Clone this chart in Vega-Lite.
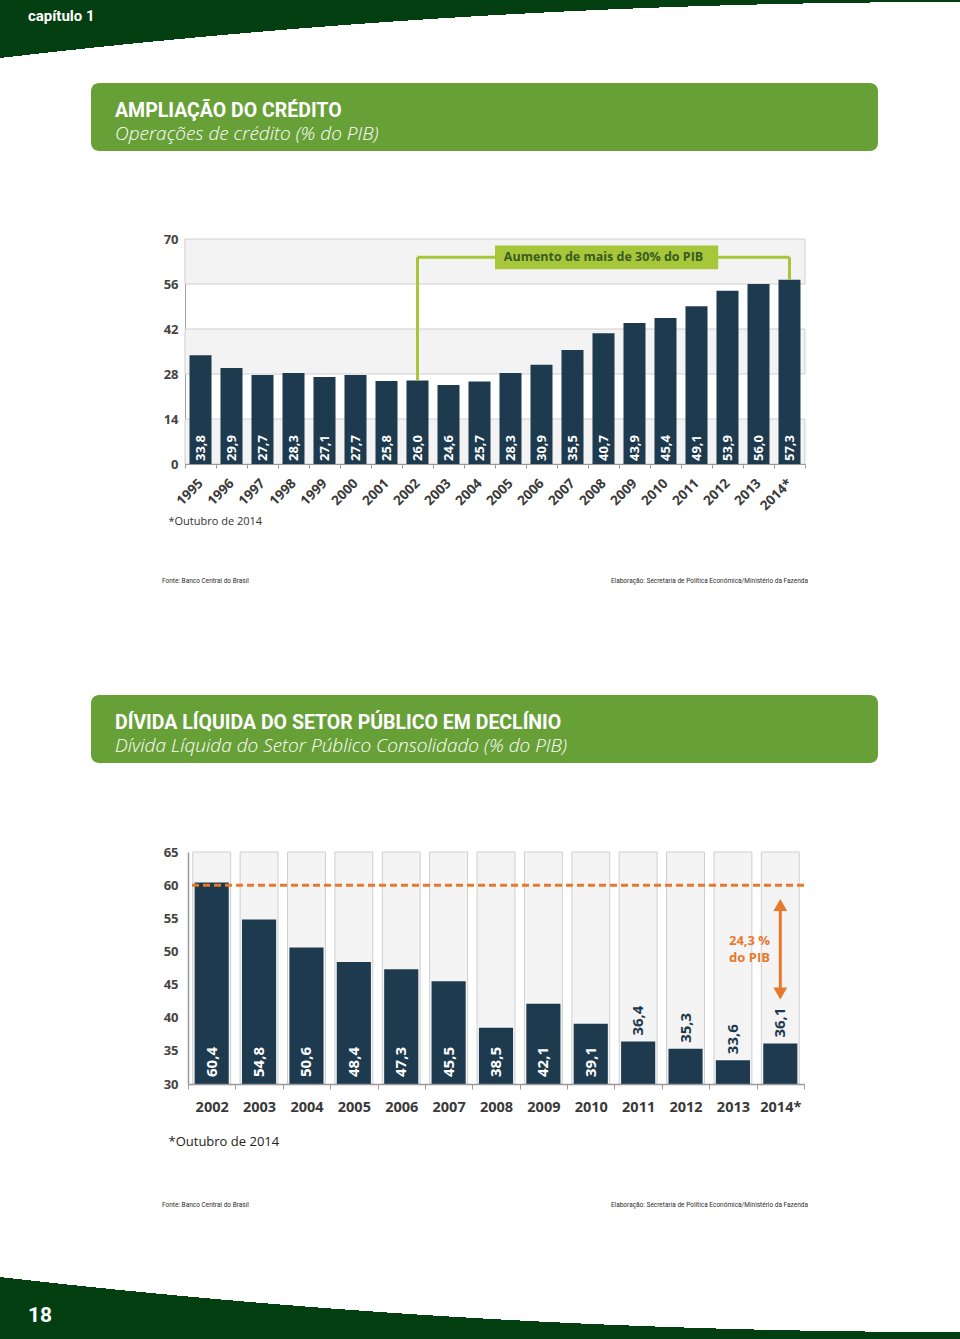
{
  "$schema": "https://vega.github.io/schema/vega-lite/v6.json",
  "padding": 0,
  "background": "#ffffff",
  "spacing": 0,
  "bounds": "full",
  "datasets": {
    "credito": [
      {"ano": "1995", "valor": 33.8}, {"ano": "1996", "valor": 29.9}, {"ano": "1997", "valor": 27.7},
      {"ano": "1998", "valor": 28.3}, {"ano": "1999", "valor": 27.1}, {"ano": "2000", "valor": 27.7},
      {"ano": "2001", "valor": 25.8}, {"ano": "2002", "valor": 26.0}, {"ano": "2003", "valor": 24.6},
      {"ano": "2004", "valor": 25.7}, {"ano": "2005", "valor": 28.3}, {"ano": "2006", "valor": 30.9},
      {"ano": "2007", "valor": 35.5}, {"ano": "2008", "valor": 40.7}, {"ano": "2009", "valor": 43.9},
      {"ano": "2010", "valor": 45.4}, {"ano": "2011", "valor": 49.1}, {"ano": "2012", "valor": 53.9},
      {"ano": "2013", "valor": 56.0}, {"ano": "2014*", "valor": 57.3}
    ],
    "divida": [
      {"ano": "2002", "valor": 60.4}, {"ano": "2003", "valor": 54.8}, {"ano": "2004", "valor": 50.6},
      {"ano": "2005", "valor": 48.4}, {"ano": "2006", "valor": 47.3}, {"ano": "2007", "valor": 45.5},
      {"ano": "2008", "valor": 38.5}, {"ano": "2009", "valor": 42.1}, {"ano": "2010", "valor": 39.1},
      {"ano": "2011", "valor": 36.4}, {"ano": "2012", "valor": 35.3}, {"ano": "2013", "valor": 33.6},
      {"ano": "2014*", "valor": 36.1}
    ]
  },
  "vconcat": [
    {
      "width": 960, "height": 83,
      "data": {"values": []},
      "mark": "rect",
      "view": {"stroke": null, "fill": {"gradient": "radial", "x1": 1, "y1": 9.0599, "r1": 0, "x2": 1, "y2": 9.0599, "r2": 8.8,
        "stops": [{"offset": 0, "color": "#ffffff"}, {"offset": 0.97739, "color": "#ffffff"}, {"offset": 0.97739, "color": "#033f10"}, {"offset": 1, "color": "#033f10"}]}},
      "title": {"text": "capítulo 1", "anchor": "start", "orient": "top", "offset": -24, "dx": 28,
        "font": "Roboto", "fontSize": 15, "fontWeight": "bold", "color": "#ffffff"}
    },
    {
      "hconcat": [
        {"width": 91, "height": 1, "data": {"values": []}, "mark": "rect"},
        {
          "width": 787, "height": 68,
          "data": {"values": [{}]},
          "mark": {"type": "text"},
          "view": {"fill": "#68a038", "cornerRadius": 8, "stroke": null},
          "title": {"text": "AMPLIAÇÃO DO CRÉDITO", "subtitle": "Operações de crédito (% do PIB)", "anchor": "start", "orient": "top", "offset": -62, "dx": 24,
            "font": "Roboto", "fontSize": 19.5, "fontWeight": "bold", "color": "#ffffff",
            "subtitleFont": "Open Sans", "subtitleFontSize": 19, "subtitleFontStyle": "italic", "subtitleFontWeight": 300, "subtitleColor": "#ffffff", "subtitlePadding": 4}
        }
      ],
      "spacing": 0, "bounds": "flush"
    },
    {"width": 10, "height": 82, "data": {"values": []}, "mark": "rect", "view": {"fill": "#ffffff", "stroke": null}},
    {
      "hconcat": [
        {"width": 185, "height": 1, "data": {"values": []}, "mark": "rect"},
        {
          "width": 620, "height": 225,
          "layer": [
            {
              "data": {"values": [{"lo": 0, "hi": 14}, {"lo": 28, "hi": 42}, {"lo": 56, "hi": 70}]},
              "mark": {"type": "rect", "fill": "#f3f3f3", "stroke": "#cfcfcf", "strokeWidth": 1},
              "encoding": {
                "y": {"field": "lo", "type": "quantitative", "scale": {"domain": [0, 70], "nice": false},
                  "axis": {"values": [0, 14, 28, 42, 56, 70], "title": null, "grid": false, "ticks": false, "domainColor": "#a0a0a0",
                    "labelFontSize": 13, "labelColor": "#444444", "labelPadding": 7}},
                "y2": {"field": "hi"}
              }
            },
            {
              "data": {"name": "credito"},
              "mark": {"type": "bar", "color": "#1e3a4f", "width": {"band": 0.71}},
              "encoding": {
                "x": {"field": "ano", "type": "ordinal", "scale": {"paddingInner": 0, "paddingOuter": 0},
                  "axis": {"title": "*Outubro de 2014", "titleX": -17, "titleY": 57, "titleAlign": "left", "titleBaseline": "middle", "titleFontSize": 11, "titleColor": "#333333",
                    "labelAngle": -45, "labelAlign": "right", "labelBaseline": "middle", "labelFontSize": 13.5, "labelColor": "#3a3a3a", "labelPadding": 13,
                    "tickBand": "extent", "tickSize": 4, "tickColor": "#999999", "domainColor": "#999999", "zindex": 1}},
                "y": {"field": "valor", "type": "quantitative", "title": null}
              }
            },
            {
              "data": {"name": "credito"},
              "mark": {"type": "text", "angle": 270, "align": "left", "baseline": "middle", "dx": 3, "color": "#ffffff", "font": "Open Sans", "fontWeight": "bold", "fontSize": 13},
              "encoding": {
                "x": {"field": "ano", "type": "ordinal"},
                "y": {"datum": 0, "type": "quantitative", "title": null},
                "text": {"field": "valor", "type": "quantitative", "format": ".1f"}
              }
            },
            {
              "data": {"values": [{}]},
              "mark": {"type": "rule", "color": "#a6c739", "strokeWidth": 3},
              "encoding": {
                "x": {"datum": "2002", "type": "ordinal"},
                "y": {"datum": 26.0, "type": "quantitative", "title": null},
                "y2": {"datum": 64.3}
              }
            },
            {
              "data": {"values": [{}]},
              "mark": {"type": "rule", "color": "#a6c739", "strokeWidth": 3},
              "encoding": {
                "x": {"datum": "2002", "type": "ordinal"},
                "x2": {"datum": "2014*"},
                "y": {"datum": 64.3, "type": "quantitative", "title": null}
              }
            },
            {
              "data": {"values": [{}]},
              "mark": {"type": "rule", "color": "#a6c739", "strokeWidth": 3},
              "encoding": {
                "x": {"datum": "2014*", "type": "ordinal"},
                "y": {"datum": 57.3, "type": "quantitative", "title": null},
                "y2": {"datum": 64.3}
              }
            },
            {
              "data": {"values": [{}]},
              "mark": {"type": "rect", "color": "#a6c739"},
              "encoding": {
                "x": {"datum": "2005", "type": "ordinal", "bandPosition": 0},
                "x2": {"datum": "2012", "bandPosition": 0.2},
                "y": {"datum": 60.6, "type": "quantitative", "title": null},
                "y2": {"datum": 68}
              }
            },
            {
              "data": {"values": [{}]},
              "mark": {"type": "text", "font": "Open Sans", "fontWeight": "bold", "fontSize": 12.5, "color": "#3b5a21", "align": "center", "baseline": "middle"},
              "encoding": {
                "x": {"datum": "2008", "type": "ordinal"},
                "y": {"datum": 64.3, "type": "quantitative", "title": null},
                "text": {"value": "Aumento de mais de 30% do PIB"}
              }
            }
          ]
        }
      ],
      "spacing": 0, "bounds": "flush"
    },
    {
      "hconcat": [
        {"width": 162, "height": 1, "data": {"values": []}, "mark": "rect"},
        {
          "width": 646, "height": 58,
          "data": {"values": [{}]},
          "layer": [
            {"mark": {"type": "text", "align": "left", "baseline": "bottom", "font": "Roboto", "fontSize": 6.5, "color": "#2b2b2b"},
              "encoding": {"x": {"value": 0}, "y": {"value": "height"}, "text": {"value": "Fonte: Banco Central do Brasil"}}},
            {"mark": {"type": "text", "align": "right", "baseline": "bottom", "font": "Roboto", "fontSize": 6.5, "color": "#2b2b2b"},
              "encoding": {"x": {"value": "width"}, "y": {"value": "height"}, "text": {"value": "Elaboração: Secretaria de Política Econômica/Ministério da Fazenda"}}}
          ]
        }
      ],
      "spacing": 0, "bounds": "flush"
    },
    {"width": 10, "height": 110, "data": {"values": []}, "mark": "rect", "view": {"fill": "#ffffff", "stroke": null}},
    {
      "hconcat": [
        {"width": 91, "height": 1, "data": {"values": []}, "mark": "rect"},
        {
          "width": 787, "height": 68,
          "data": {"values": [{}]},
          "mark": {"type": "text"},
          "view": {"fill": "#68a038", "cornerRadius": 8, "stroke": null},
          "title": {"text": "DÍVIDA LÍQUIDA DO SETOR PÚBLICO EM DECLÍNIO", "subtitle": "Dívida Líquida do Setor Público Consolidado (% do PIB)", "anchor": "start", "orient": "top", "offset": -62, "dx": 24,
            "font": "Roboto", "fontSize": 19.5, "fontWeight": "bold", "color": "#ffffff",
            "subtitleFont": "Open Sans", "subtitleFontSize": 19, "subtitleFontStyle": "italic", "subtitleFontWeight": 300, "subtitleColor": "#ffffff", "subtitlePadding": 4}
        }
      ],
      "spacing": 0, "bounds": "flush"
    },
    {"width": 10, "height": 83, "data": {"values": []}, "mark": "rect", "view": {"fill": "#ffffff", "stroke": null}},
    {
      "hconcat": [
        {"width": 188, "height": 1, "data": {"values": []}, "mark": "rect"},
        {
          "width": 616, "height": 232,
          "layer": [
            {
              "data": {"name": "divida"},
              "mark": {"type": "bar", "fill": "#f4f4f4", "stroke": "#cfcfcf", "strokeWidth": 1, "width": {"band": 0.8}},
              "encoding": {
                "x": {"field": "ano", "type": "ordinal", "scale": {"paddingInner": 0, "paddingOuter": 0},
                  "axis": {"title": "*Outubro de 2014", "titleX": -20, "titleY": 57, "titleAlign": "left", "titleBaseline": "middle", "titleFontSize": 13, "titleColor": "#222222",
                    "labelAngle": 0, "labelFontSize": 14.5, "labelColor": "#3a3a3a", "labelPadding": 11,
                    "tickBand": "extent", "tickSize": 5, "tickColor": "#999999", "domainColor": "#999999", "domainWidth": 1.5, "zindex": 1}},
                "y": {"datum": 65, "type": "quantitative", "title": null, "scale": {"domain": [30, 65], "nice": false, "zero": false}},
                "y2": {"datum": 30}
              }
            },
            {
              "data": {"name": "divida"},
              "mark": {"type": "bar", "color": "#1e3a4f", "width": {"band": 0.72}},
              "encoding": {
                "x": {"field": "ano", "type": "ordinal"},
                "y": {"field": "valor", "type": "quantitative", "title": null, "scale": {"domain": [30, 65], "nice": false, "zero": false},
                  "axis": {"values": [30, 35, 40, 45, 50, 55, 60, 65], "title": null, "grid": false, "ticks": false, "labelOverlap": false, "domainColor": "#999999", "domainWidth": 1.5,
                    "labelFontSize": 13, "labelColor": "#444444", "labelPadding": 10}},
                "y2": {"datum": 30}
              }
            },
            {
              "data": {"values": [{}]},
              "mark": {"type": "rule", "color": "#e8792b", "strokeWidth": 3, "strokeDash": [7, 4]},
              "encoding": {"y": {"datum": 60, "type": "quantitative", "title": null}}
            },
            {
              "data": {"name": "divida"},
              "transform": [{"filter": "datum.valor >= 38"}],
              "mark": {"type": "text", "angle": 270, "align": "left", "baseline": "middle", "dx": 7, "color": "#ffffff", "font": "Open Sans", "fontWeight": "bold", "fontSize": 15},
              "encoding": {
                "x": {"field": "ano", "type": "ordinal"},
                "y": {"datum": 30, "type": "quantitative", "title": null},
                "text": {"field": "valor", "type": "quantitative", "format": ".1f"}
              }
            },
            {
              "data": {"name": "divida"},
              "transform": [{"filter": "datum.valor < 38"}],
              "mark": {"type": "text", "angle": 270, "align": "left", "baseline": "middle", "dx": 6, "color": "#1e3a4f", "font": "Open Sans", "fontWeight": "bold", "fontSize": 15},
              "encoding": {
                "x": {"field": "ano", "type": "ordinal"},
                "y": {"field": "valor", "type": "quantitative", "title": null},
                "text": {"field": "valor", "type": "quantitative", "format": ".1f"}
              }
            },
            {
              "data": {"values": [{}]},
              "mark": {"type": "rule", "color": "#e8792b", "strokeWidth": 3},
              "encoding": {
                "x": {"datum": "2014*", "type": "ordinal"},
                "y": {"datum": 44.2, "type": "quantitative", "title": null},
                "y2": {"datum": 56.5}
              }
            },
            {
              "data": {"values": [{}]},
              "mark": {"type": "point", "shape": "triangle-up", "filled": true, "color": "#e8792b", "size": 190, "opacity": 1},
              "encoding": {
                "x": {"datum": "2014*", "type": "ordinal"},
                "y": {"datum": 57.0, "type": "quantitative", "title": null}
              }
            },
            {
              "data": {"values": [{}]},
              "mark": {"type": "point", "shape": "triangle-down", "filled": true, "color": "#e8792b", "size": 190, "opacity": 1},
              "encoding": {
                "x": {"datum": "2014*", "type": "ordinal"},
                "y": {"datum": 43.65, "type": "quantitative", "title": null}
              }
            },
            {
              "data": {"values": [{}]},
              "mark": {"type": "text", "font": "Open Sans", "fontWeight": "bold", "fontSize": 13, "color": "#e8792b", "align": "center", "baseline": "middle"},
              "encoding": {
                "x": {"datum": "2013", "type": "ordinal", "bandPosition": 0.85},
                "y": {"datum": 51.6, "type": "quantitative", "title": null},
                "text": {"value": "24,3 %"}
              }
            },
            {
              "data": {"values": [{}]},
              "mark": {"type": "text", "font": "Open Sans", "fontWeight": "bold", "fontSize": 13, "color": "#e8792b", "align": "center", "baseline": "middle"},
              "encoding": {
                "x": {"datum": "2013", "type": "ordinal", "bandPosition": 0.85},
                "y": {"datum": 49.0, "type": "quantitative", "title": null},
                "text": {"value": "do PIB"}
              }
            }
          ]
        }
      ],
      "spacing": 0, "bounds": "flush"
    },
    {
      "hconcat": [
        {"width": 162, "height": 1, "data": {"values": []}, "mark": "rect"},
        {
          "width": 646, "height": 60,
          "data": {"values": [{}]},
          "layer": [
            {"mark": {"type": "text", "align": "left", "baseline": "bottom", "font": "Roboto", "fontSize": 6.5, "color": "#2b2b2b"},
              "encoding": {"x": {"value": 0}, "y": {"value": "height"}, "text": {"value": "Fonte: Banco Central do Brasil"}}},
            {"mark": {"type": "text", "align": "right", "baseline": "bottom", "font": "Roboto", "fontSize": 6.5, "color": "#2b2b2b"},
              "encoding": {"x": {"value": "width"}, "y": {"value": "height"}, "text": {"value": "Elaboração: Secretaria de Política Econômica/Ministério da Fazenda"}}}
          ]
        }
      ],
      "spacing": 0, "bounds": "flush"
    },
    {
      "width": 960, "height": 130,
      "data": {"values": []},
      "mark": "rect",
      "view": {"stroke": null, "fill": {"gradient": "radial", "x1": 1, "y1": -8.19583, "r1": 0, "x2": 1, "y2": -8.19583, "r2": 9.0,
        "stops": [{"offset": 0, "color": "#ffffff"}, {"offset": 0.97292, "color": "#ffffff"}, {"offset": 0.97292, "color": "#033f10"}, {"offset": 1, "color": "#033f10"}]}},
      "title": {"text": "18", "anchor": "start", "orient": "bottom", "offset": -34, "dx": 28,
        "font": "Roboto", "fontSize": 21, "fontWeight": "bold", "color": "#ffffff"}
    }
  ],
  "config": {
    "view": {"stroke": null},
    "locale": {"number": {"decimal": ",", "thousands": ".", "grouping": [3], "currency": ["R$", ""]}},
    "axis": {"labelFont": "Open Sans", "labelFontWeight": "bold", "titleFont": "Open Sans", "titleFontWeight": "normal"},
    "axisY": {"labelOverlap": false, "tickCount": 8, "labelPadding": 10, "labelColor": "#444444", "labelFontSize": 13, "domainColor": "#999999", "ticks": false, "grid": false}
  }
}
